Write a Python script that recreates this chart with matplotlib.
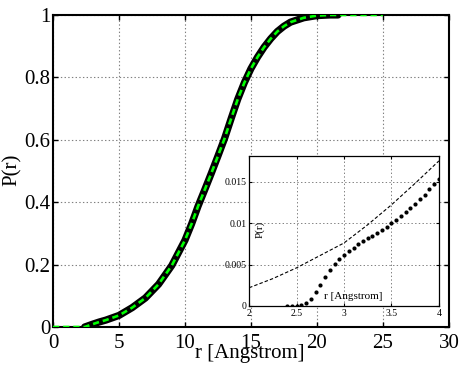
import matplotlib
matplotlib.use("Agg")
import matplotlib.pyplot as plt

plt.rcParams['font.family'] = ['Liberation Serif', 'DejaVu Serif']
plt.rcParams['lines.scale_dashes'] = False

# main curve P(r)
r_main = [2.4, 3, 3.5, 4, 5, 6, 7, 8, 9, 10, 10.5, 11, 11.5, 12, 12.5, 13, 13.5, 14, 14.5,
          15, 15.5, 16, 16.5, 17, 17.5, 18, 19, 20, 21, 21.6]
p_main = [0.0, 0.009, 0.016, 0.022, 0.037, 0.062, 0.093, 0.137, 0.197, 0.278, 0.33, 0.388,
          0.44, 0.493, 0.548, 0.604, 0.668, 0.73, 0.783, 0.828, 0.865, 0.897, 0.924, 0.947,
          0.964, 0.977, 0.991, 0.998, 1.0, 1.0]

# green fit, flat outside the data range
r_fit = [0.0] + r_main + [25.0]
p_fit = [0.0] + p_main + [1.0]

# inset: small-r region
r_dots = [2.40, 2.45, 2.50, 2.55, 2.60, 2.65, 2.70, 2.75, 2.80, 2.85, 2.90, 2.95, 3.00,
          3.05, 3.10, 3.15, 3.20, 3.25, 3.30, 3.35, 3.40, 3.45, 3.50, 3.55, 3.60, 3.65,
          3.70, 3.75, 3.80, 3.85, 3.90, 3.95, 4.00]
p_dots = [0.0, 0.0, 0.0, 0.00008, 0.00032, 0.00088, 0.00164, 0.00257, 0.00349, 0.00433,
          0.00505, 0.00566, 0.00618, 0.00662, 0.00702, 0.00742, 0.00778, 0.00814, 0.00846,
          0.00882, 0.00918, 0.00955, 0.00999, 0.01043, 0.01087, 0.01131, 0.01179, 0.01231,
          0.01287, 0.01344, 0.01408, 0.01468, 0.01532]
r_dash = [2.0, 2.25, 2.5, 2.75, 3.0, 3.25, 3.5, 3.75, 4.0]
p_dash = [0.0022, 0.0033, 0.0046, 0.0061, 0.0076, 0.0098, 0.0122, 0.0148, 0.0175]

fig = plt.figure(figsize=(4.63, 3.66), dpi=100)
ax = fig.add_axes([0.1145, 0.1066, 0.855, 0.8525])

ax.plot(r_main, p_main, color='black', lw=5.2, solid_capstyle='round',
        solid_joinstyle='round', zorder=3)
ax.plot(r_fit, p_fit, color='#00ff00', lw=1.9, dashes=(4.5, 2.8), zorder=4)

ax.set_xlim(0, 30)
ax.set_ylim(0, 1)
ax.set_xticks([0, 5, 10, 15, 20, 25, 30])
ax.set_yticks([0, 0.2, 0.4, 0.6, 0.8, 1])
ax.set_yticklabels(['0', '0.2', '0.4', '0.6', '0.8', '1'])
ax.grid(True, linestyle=':', color='gray', lw=0.8)
ax.tick_params(direction='in', top=True, right=True, length=3.5, width=1,
               labelsize=15)
ax.tick_params(axis='x', pad=5)
ax.tick_params(axis='y', pad=2)
for s in ax.spines.values():
    s.set_linewidth(1.5)
ax.set_xlabel('r [Angstrom]', fontsize=15)
ax.xaxis.set_label_coords(0.497, -0.055)
ax.set_ylabel('P(r)', fontsize=15)
ax.yaxis.set_label_coords(-0.078, 0.503)

# inset
ins = fig.add_axes([0.538, 0.164, 0.41, 0.41])
ins.set_facecolor('white')
ins.plot(r_dash, p_dash, color='black', lw=0.8, dashes=(2.5, 1.5))
ins.plot(r_dots, p_dots, 'o', color='black', ms=3, mec='none')
ins.set_xlim(2, 4)
ins.set_ylim(0, 0.0181)
ins.set_xticks([2, 2.5, 3, 3.5, 4])
ins.set_xticklabels(['2', '2.5', '3', '3.5', '4'])
ins.set_yticks([0, 0.005, 0.01, 0.015])
ins.set_yticklabels(['0', '0.005', '0.01', '0.015'])
ins.grid(True, linestyle=':', color='gray', lw=0.7)
ins.tick_params(direction='in', top=True, right=True, length=2.5, width=0.8,
                labelsize=7, pad=2)
for s in ins.spines.values():
    s.set_linewidth(0.9)
ins.set_xlabel('r [Angstrom]', fontsize=8)
ins.xaxis.set_label_coords(0.547, 0.095)
ins.set_ylabel('P(r)', fontsize=8)
ins.yaxis.set_label_coords(0.084, 0.51)

fig.savefig('out.png', dpi=100)
